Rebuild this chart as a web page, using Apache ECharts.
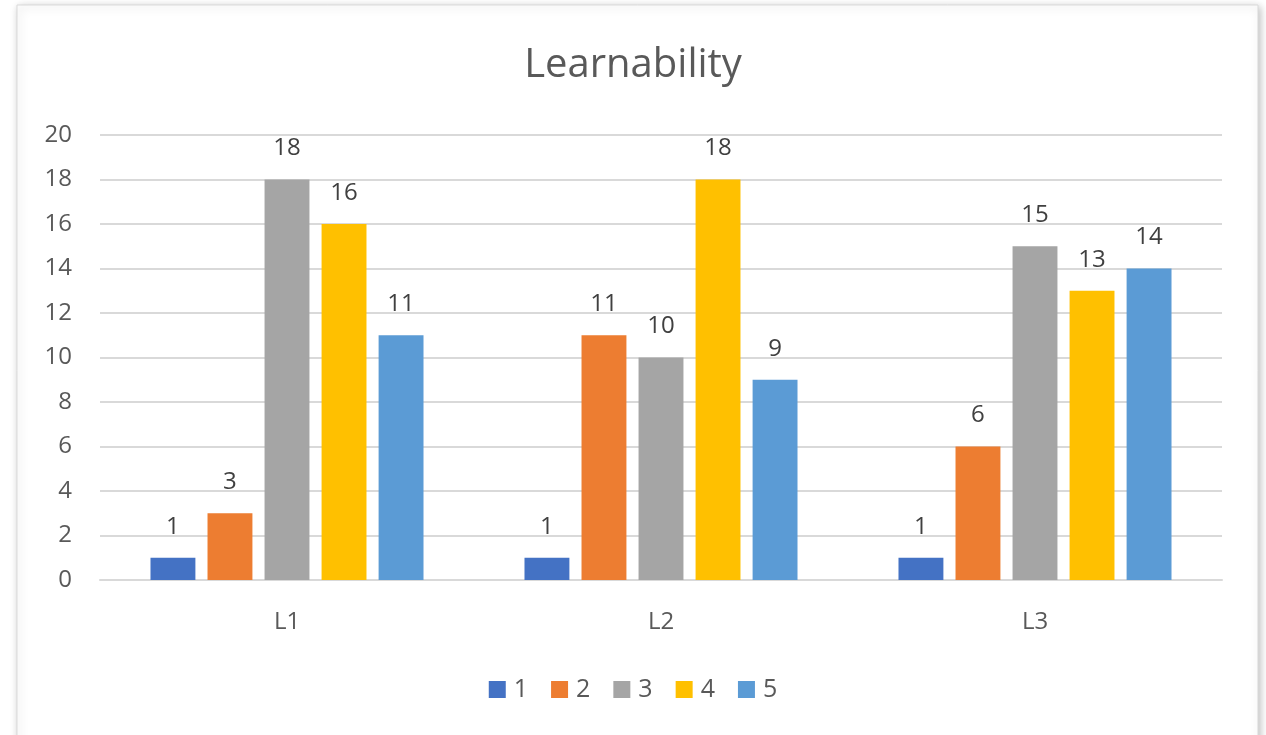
<!DOCTYPE html>
<html>
<head>
<meta charset="utf-8">
<title>Learnability</title>
<script src="https://cdn.jsdelivr.net/npm/echarts@6/dist/echarts.min.js"></script>
<style>
  html, body { margin: 0; padding: 0; background: #fff; }
  #main { width: 1266px; height: 735px; }
</style>
</head>
<body>
<div id="main"></div>
<script>
var categories = ['L1', 'L2', 'L3'];
var seriesNames = ['1', '2', '3', '4', '5'];
var s1 = [1, 1, 1];
var s2 = [3, 11, 6];
var s3 = [18, 10, 15];
var s4 = [16, 18, 13];
var s5 = [11, 9, 14];
var colors = ['#4472C4', '#ED7D31', '#A5A5A5', '#FFC000', '#5B9BD5'];

var chart = echarts.init(document.getElementById('main'), null, { renderer: 'canvas' });
var font = '"Open Sans", "Noto Sans", sans-serif';

function makeSeries(name, data, i) {
  return {
    name: name,
    type: 'bar',
    data: data,
    barGap: '27%',
    barCategoryGap: '27%',
    itemStyle: { color: colors[i] },
    label: {
      show: true,
      position: 'top',
      distance: 19,
      color: '#404040',
      fontSize: 24,
      fontFamily: font
    }
  };
}

var option = {
  animation: false,
  color: colors,
  graphic: [{
    type: 'rect',
    z: -10,
    shape: { x: 17, y: 5, width: 1241, height: 740 },
    style: {
      fill: '#fff',
      stroke: '#d9d9d9',
      lineWidth: 1,
      shadowBlur: 8,
      shadowColor: 'rgba(0,0,0,0.25)',
      shadowOffsetX: 2,
      shadowOffsetY: 2
    }
  }],
  title: {
    text: 'Learnability',
    left: 'center',
    top: 41,
    textStyle: { color: '#595959', fontSize: 40, fontWeight: 'normal', fontFamily: font }
  },
  legend: {
    data: seriesNames,
    bottom: 28,
    left: 'center',
    itemWidth: 17,
    itemHeight: 17,
    itemGap: 23,
    icon: 'rect',
    textStyle: { color: '#595959', fontSize: 25, fontFamily: font, padding: [0, 0, 0, 3] }
  },
  grid: { left: 100, right: 44, top: 135, bottom: 155 },
  xAxis: {
    type: 'category',
    data: categories,
    axisTick: { show: false },
    axisLine: { lineStyle: { color: '#d9d9d9', width: 2 } },
    axisLabel: { color: '#595959', fontSize: 24, margin: 30, fontFamily: font }
  },
  yAxis: {
    type: 'value',
    min: 0,
    max: 20,
    interval: 2,
    axisLine: { show: false },
    axisTick: { show: false },
    splitLine: { lineStyle: { color: '#d9d9d9', width: 2 } },
    axisLabel: { color: '#595959', fontSize: 24, margin: 28, fontFamily: font }
  },
  series: [
    makeSeries(seriesNames[0], s1, 0),
    makeSeries(seriesNames[1], s2, 1),
    makeSeries(seriesNames[2], s3, 2),
    makeSeries(seriesNames[3], s4, 3),
    makeSeries(seriesNames[4], s5, 4)
  ]
};
chart.setOption(option);
</script>
</body>
</html>
